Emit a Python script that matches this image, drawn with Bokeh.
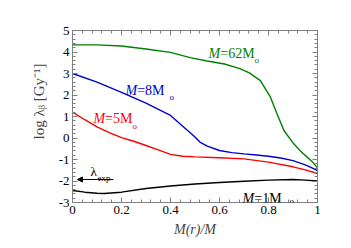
from bokeh.plotting import figure
from bokeh.models import Label, Arrow, NormalHead, LinearAxis, FixedTicker, Range1d
from bokeh.embed import file_html
from bokeh.resources import INLINE

# ---- data ----
x_62 = [0, 0.1, 0.2, 0.3, 0.4, 0.48, 0.55, 0.62, 0.68, 0.72, 0.767, 0.808, 0.835, 0.863, 0.903, 0.93, 0.958, 0.98, 1.0]
y_62 = [4.33, 4.33, 4.28, 4.14, 3.98, 3.74, 3.58, 3.44, 3.24, 3.04, 2.67, 1.90, 1.12, 0.35, -0.27, -0.6, -0.89, -1.12, -1.39]

x_8 = [0, 0.1, 0.2, 0.3, 0.4, 0.45, 0.47, 0.5, 0.52, 0.55, 0.6, 0.65, 0.7, 0.75, 0.8, 0.85, 0.9, 0.95, 0.984, 1.0]
y_8 = [3.0, 2.6, 2.12, 1.62, 1.05, 0.55, 0.35, 0.05, -0.19, -0.38, -0.58, -0.68, -0.74, -0.79, -0.85, -0.93, -1.05, -1.25, -1.42, -1.52]

x_5 = [0, 0.05, 0.1, 0.15, 0.2, 0.25, 0.3, 0.35, 0.4, 0.45, 0.5, 0.6, 0.7, 0.8, 0.9, 0.95, 1.0]
y_5 = [1.2, 0.85, 0.52, 0.25, 0.02, -0.15, -0.35, -0.55, -0.76, -0.85, -0.88, -0.92, -0.97, -1.12, -1.34, -1.48, -1.65]

x_1 = [0, 0.05, 0.1, 0.13, 0.2, 0.3, 0.4, 0.5, 0.6, 0.7, 0.8, 0.9, 0.95, 1.0]
y_1 = [-2.44, -2.52, -2.57, -2.58, -2.52, -2.35, -2.23, -2.14, -2.07, -2.01, -1.96, -1.93, -1.96, -2.0]

x_ticks = [0, 0.2, 0.4, 0.6, 0.8, 1.0]
x_tick_labels = ["0", "0.2", "0.4", "0.6", "0.8", "1"]
y_ticks = [-3, -2, -1, 0, 1, 2, 3, 4, 5]
y_tick_labels = ["-3", "-2", "-1", "0", "1", "2", "3", "4", "5"]

series_labels = ["62", "8", "5", "1"]
colors = ["#008000", "#0000cc", "#ff0000", "#000000"]

FONT = "Liberation Serif"
AX = "#808080"

p = figure(width=351, height=248, output_backend="svg", toolbar_location=None,
           x_range=Range1d(0, 1), y_range=Range1d(-3, 5),
           min_border_left=72, min_border_top=30, min_border_right=34, min_border_bottom=46)
p.grid.visible = False
p.outline_line_color = AX
p.background_fill_color = "white"
p.border_fill_color = "white"

for xs, ys, c in zip([x_62, x_8, x_5, x_1], [y_62, y_8, y_5, y_1], colors):
    p.line(xs, ys, line_color=c, line_width=1.4)

xminor = [i * 0.04 for i in range(26)]
yminor = [-3 + i * 0.2 for i in range(41)]

def style_axis(ax, ticks, minor, labels, show):
    ax.ticker = FixedTicker(ticks=ticks, minor_ticks=minor)
    ax.axis_line_color = AX
    ax.major_tick_line_color = AX
    ax.minor_tick_line_color = AX
    ax.major_tick_in = 5
    ax.major_tick_out = 0
    ax.minor_tick_in = 3
    ax.minor_tick_out = 0
    ax.major_label_overrides = {t: l for t, l in zip(ticks, labels)}
    ax.major_label_text_font = FONT
    ax.major_label_text_font_size = "13px"
    ax.major_label_standoff = 3
    ax.major_label_text_color = "black" if show else None

xa = p.xaxis[0]
style_axis(xa, x_ticks, xminor, x_tick_labels, True)
xa.axis_label = "M(r)/M"
xa.axis_label_text_font = FONT
xa.axis_label_text_font_style = "italic"
xa.axis_label_text_font_size = "14px"
xa.axis_label_standoff = 5

ya = p.yaxis[0]
style_axis(ya, y_ticks, yminor, y_tick_labels, True)
ya.axis_label = "\u00a0" * 8 + "log λᵦ [Gy⁻¹]"
ya.axis_label_text_font = FONT
ya.axis_label_text_font_style = "normal"
ya.axis_label_text_font_size = "15px"
ya.axis_label_standoff = 9

top = LinearAxis()
style_axis(top, x_ticks, xminor, x_tick_labels, False)
p.add_layout(top, "above")
right = LinearAxis()
style_axis(right, y_ticks, yminor, y_tick_labels, False)
p.add_layout(right, "right")

def lab(x, y, text, size="14px", color="black", style="normal"):
    p.add_layout(Label(x=x, y=y, text=text, text_font=FONT, text_font_size=size,
                       text_color=color, text_font_style=style,
                       text_align="left", text_baseline="alphabetic"))

# curve labels: (italic M x, baseline y, rest x, sub x, sub y)
label_pos = [
    (0.555, 3.953, 0.603, 0.743, 3.605),
    (0.216, 2.209, 0.264, 0.396, 1.884),
    (0.086, 0.907, 0.133, 0.245, 0.581),
    (0.694, -2.814, 0.742, 0.886, -2.94),
]
for (mx, my, rx, sx, sy), name, c in zip(label_pos, series_labels, colors):
    lab(mx, my, "M", color=c, style="italic")
    lab(rx, my, "=" + name + "M", color=c)
    lab(sx, sy, "o", size="9px", color=c)

# lambda_exp arrow
p.add_layout(Arrow(end=NormalHead(size=5, fill_color="black", line_color="black"),
                   x_start=0.167, y_start=-1.93, x_end=0.02, y_end=-1.93,
                   line_color="black", line_width=1))
lab(0.073, -1.558, "λ", size="13px")
lab(0.102, -1.86, "exp", size="9px")

open("out.html", "w").write(file_html(p, INLINE))
